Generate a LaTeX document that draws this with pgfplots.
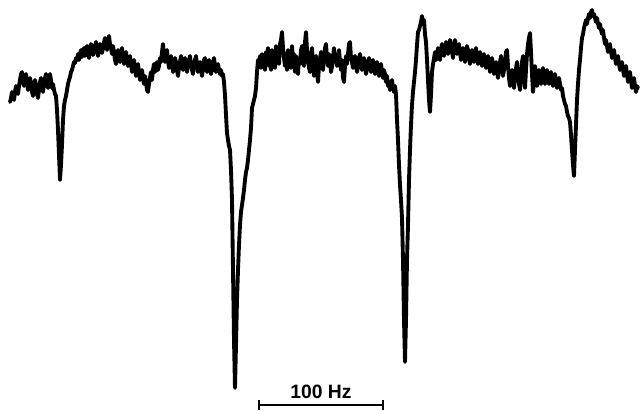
\documentclass[border=0pt]{standalone}
\usepackage{pgfplots}
\pgfplotsset{compat=1.18}
\usepackage{fontspec}
\setmainfont{Liberation Sans}
\begin{document}
\begin{tikzpicture}
\begin{axis}[scale only axis, width=480pt, height=308.25pt,
  xmin=0, xmax=640, ymin=0, ymax=411, y dir=reverse, hide axis, clip=false]
\path (rel axis cs:0,0) rectangle (rel axis cs:1,1);
\addplot[black, line width=2.9pt, line join=round, line cap=round] coordinates {
(10,102)(11,98)(12,92)(13,96)(14,100)(15,92)(16,86)(17,90)(18,94)(19,86)(20,80)(21,74)(22,72)(23,80)(24,86)(25,78)(26,74)(27,82)(28,90)(29,84)(30,78)(31,84)(32,92)(33,96)(34,86)(35,80)(36,86)(37,94)(38,98)(39,90)(40,82)(41,78)(42,86)(43,92)(44,84)(45,78)(46,74)(47,82)(48,88)(49,80)(50,74)(51,80)(52,88)(53,84)(54,90)(55,94)(56,96)
(57,110)(58,130)(59,155)(60,180)(61,165)(62,145)(63,120)(64,106)(65,100)(66,96)(67,90)(68,84)(69,80)(70,77)(71,72)(72,70)(73,66)(74,62)(75,63)(76,58)(77,60)(78,54)
(79,60)(80,54)(81,50)(82,57)(83,52)(84,48)(85,56)(86,50)(87,46)(88,54)(89,58)(90,50)(91,44)(92,48)(93,55)(94,52)(95,46)(96,42)(97,49)(98,56)(99,50)(100,44)(101,47)(102,53)(103,48)(104,42)(105,38)(106,45)(107,50)(108,40)(109,36)(110,44)(111,48)(112,54)(113,46)(114,52)(115,60)(116,64)(117,56)(118,50)(119,58)(120,62)(121,54)(122,48)(123,56)(124,64)(125,58)(126,52)(127,60)(128,66)(129,62)(130,56)(131,64)(132,72)(133,66)(134,60)(135,68)(136,76)(137,70)(138,64)(139,72)(140,80)(141,74)(142,70)(143,78)(144,84)(145,76)(146,82)(147,90)(148,92)(149,84)
(150,78)(151,72)(152,80)(153,70)(154,64)(155,72)(156,68)(157,62)(158,70)(159,66)(160,58)(161,62)(162,52)(163,44)(164,56)(165,62)(166,54)(167,50)(168,60)(169,68)(170,62)(171,56)(172,64)(173,72)(174,66)(175,58)(176,62)(177,70)(178,76)(179,68)(180,62)(181,56)(182,64)(183,70)(184,62)(185,58)(186,66)(187,72)(188,64)(189,60)(190,56)(191,64)(192,70)(193,74)(194,66)(195,60)(196,56)(197,64)(198,72)(199,66)(200,62)(201,70)(202,76)(203,68)(204,60)(205,58)(206,66)(207,72)(208,64)(209,60)(210,68)(211,74)(212,70)(213,62)(214,58)(215,66)(216,72)(217,68)(218,64)(219,70)(220,74)(221,70)(222,76)(223,74)
(224,82)(225,95)(226,115)(227,133)(228,140)(229,146)(230,150)(231,170)(232,200)(233,270)(234,340)(235,388)(236,345)(237,300)(238,270)(239,245)(240,225)(241,212)(242,205)(243,198)(244,190)(245,180)(246,172)(247,168)(248,160)(249,150)(250,140)(251,128)(252,108)(253,104)(254,100)(255,96)(256,88)(257,72)(258,60)
(259,66)(260,56)(261,68)(262,54)(263,64)(264,58)(265,70)(266,52)(267,62)(268,48)(269,66)(270,56)(271,70)(272,50)(273,62)(274,56)(275,68)(276,46)(277,60)(278,52)(279,64)(280,44)(281,40)(282,32)(283,48)(284,58)(285,66)(286,54)(287,70)(288,50)(289,62)(290,56)(291,68)(292,46)(293,60)(294,54)(295,72)(296,56)(297,66)(298,74)(299,58)(300,64)(301,50)(302,46)(303,60)(304,66)(305,42)(306,32)(307,50)(308,60)(309,68)(310,72)(311,54)(312,48)(313,66)(314,76)(315,60)(316,56)(317,72)(318,82)(319,66)(320,58)(321,52)(322,64)(323,70)(324,56)(325,48)(326,44)(327,58)(328,66)(329,54)(330,60)(331,72)(332,66)(333,58)(334,48)(335,62)(336,54)(337,66)(338,58)(339,50)(340,62)(341,70)(342,60)(343,78)(344,82)(345,66)(346,56)(347,64)(348,54)(349,44)(350,42)(351,58)
(352,62)(353,68)(354,60)(355,56)(356,64)(357,72)(358,66)(359,58)(360,54)(361,62)(362,70)(363,64)(364,58)(365,66)(366,74)(367,68)(368,62)(369,58)(370,66)(371,72)(372,64)(373,60)(374,68)(375,74)(376,66)(377,62)(378,70)(379,76)(380,68)(381,64)(382,72)(383,78)(384,70)(385,74)(386,82)(387,76)(388,86)(389,82)(390,90)(391,84)(392,80)(393,88)(394,92)(395,86)(396,94)
(397,120)(398,140)(399,165)(400,185)(401,200)(402,218)(403,260)(404,320)(405,362)(406,320)(407,260)(408,225)(409,180)(410,150)(411,125)(412,105)(413,92)(414,82)(415,72)(416,60)(417,45)(418,32)(419,30)(420,26)(421,22)(422,16)(423,24)(424,20)(425,34)(426,42)(427,60)(428,80)(429,100)(430,112)(431,95)(432,72)
(433,64)(434,58)(435,52)(436,60)(437,56)(438,48)(439,54)(440,60)(441,50)(442,44)(443,50)(444,56)(445,48)(446,42)(447,48)(448,54)(449,46)(450,40)(451,44)(452,52)(453,58)(454,48)(455,40)(456,46)(457,54)(458,48)(459,44)(460,52)(461,60)(462,54)(463,48)(464,56)(465,62)(466,54)(467,46)(468,50)(469,58)(470,64)(471,56)(472,50)(473,56)(474,62)(475,54)(476,48)(477,56)(478,64)(479,58)(480,52)(481,60)(482,66)(483,58)(484,54)(485,62)(486,68)(487,60)(488,56)(489,64)(490,72)(491,64)(492,58)(493,66)(494,74)(495,68)(496,62)(497,70)(498,78)(499,70)(500,62)(501,56)(502,68)(503,76)(504,70)(505,62)(506,52)(507,50)(508,66)(509,78)(510,86)(511,76)(512,70)(513,80)(514,88)(515,78)(516,68)(517,62)(518,72)(519,84)(520,90)(521,78)(522,62)(523,56)(524,74)(525,88)(526,70)(527,54)(528,44)(529,38)(530,33)(531,52)(532,74)(533,92)(534,82)(535,66)(536,74)(537,86)(538,78)(539,70)(540,76)(541,84)(542,74)(543,68)(544,76)(545,84)(546,78)(547,70)(548,76)(549,84)(550,78)(551,72)(552,78)(553,86)(554,80)(555,74)(556,80)(557,88)(558,82)(559,78)(560,84)(561,90)(562,88)
(563,96)(564,100)(565,104)(566,106)(567,112)(568,116)(569,118)(570,122)(571,135)(572,150)(573,165)(574,176)(575,150)(576,125)(577,100)(578,84)(579,70)(580,60)(581,48)(582,38)(583,34)(584,28)
(585,24)(586,20)(587,24)(588,18)(589,14)(590,18)(591,12)(592,10)(593,16)(594,14)(595,18)(596,22)(597,18)(598,24)(599,28)(600,24)(601,30)(602,34)(603,30)(604,38)(605,44)(606,40)(607,46)(608,52)(609,48)(610,44)(611,52)(612,58)(613,54)(614,50)(615,58)(616,64)(617,60)(618,56)(619,64)(620,70)(621,66)(622,62)(623,70)(624,76)(625,70)(626,66)(627,74)(628,82)(629,76)(630,72)(631,80)(632,88)(633,82)(634,78)(635,86)(636,92)(637,86)(638,88)
};
% scale bar
\addplot[black, line width=1.3pt] coordinates {(259,405) (383,405)};
\addplot[black, line width=1.5pt] coordinates {(259,400) (259,410)};
\addplot[black, line width=1.5pt] coordinates {(383,400) (383,410)};
\node[font=\fontsize{14.5}{14.5}\selectfont\bfseries, inner sep=0pt] at (axis cs:321,392) {100 Hz};
\end{axis}
\end{tikzpicture}
\end{document}
